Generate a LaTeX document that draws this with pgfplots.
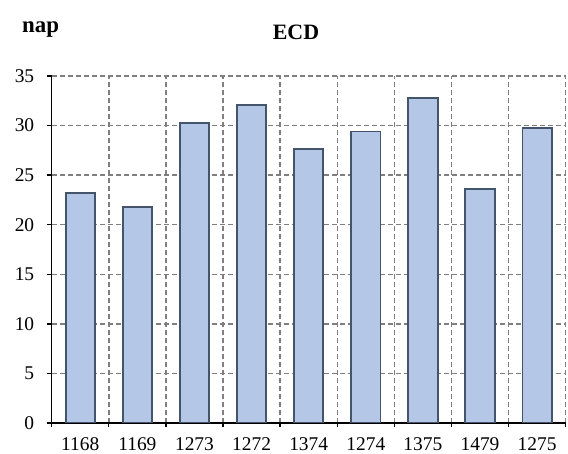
\documentclass[border=0pt]{standalone}
\usepackage{fontspec}
\setmainfont{Liberation Serif}
\usepackage{pgfplots}
\pgfplotsset{compat=1.18}
\definecolor{barfill}{HTML}{B4C7E7}
\definecolor{baredge}{HTML}{44546A}
\definecolor{gridgray}{HTML}{7F7F7F}
\begin{document}
\begin{tikzpicture}
\path[use as bounding box] (0,0) rectangle (568bp,454bp);
\begin{axis}[
  at={(51.7bp,31bp)}, anchor=south west,
  scale only axis, width=514bp, height=347bp,
  xmin=-0.5, xmax=8.5, ymin=0, ymax=35,
  xtick={0,...,8},
  xticklabels={1168,1169,1273,1272,1374,1274,1375,1479,1275},
  major x tick style={draw=none},
  minor xtick={-0.5,0.5,...,8.5},
  xminorgrids=true,
  ytick={0,5,...,35},
  ymajorgrids=true,
  axis x line*=bottom, axis y line*=left,
  x axis line style={-, black, line width=1.4bp},
  y axis line style={-, black, line width=1.4bp},
  tick align=outside,
  major tick length=5bp, minor tick length=4bp,
  every tick/.style={black, line width=1.3bp},
  minor tick style={black, line width=1.3bp},
  grid style={gridgray, line width=1.5bp, dash pattern=on 5bp off 3bp},
  minor grid style={gridgray, line width=1.5bp, dash pattern=on 5bp off 3bp},
  /pgf/number format/assume math mode=true,
  tick label style={font=\fontsize{19.5}{22}\selectfont},
  xticklabel style={yshift=-6bp},
  yticklabel style={xshift=-9bp},
  ybar, bar width=29.3bp,
]
\addplot[fill=barfill, draw=baredge, line width=1.9bp] coordinates {
  (0,23.2) (1,21.8) (2,30.3) (3,32.1) (4,27.6) (5,29.4) (6,32.8) (7,23.6) (8,29.8)
};
\end{axis}
\node[anchor=base west, font=\fontsize{23}{26}\selectfont\bfseries, inner sep=0pt] at (22bp,421bp) {nap};
\node[anchor=base, font=\fontsize{22}{26}\selectfont\bfseries, inner sep=0pt] at (296bp,414bp) {ECD};
\end{tikzpicture}
\end{document}
